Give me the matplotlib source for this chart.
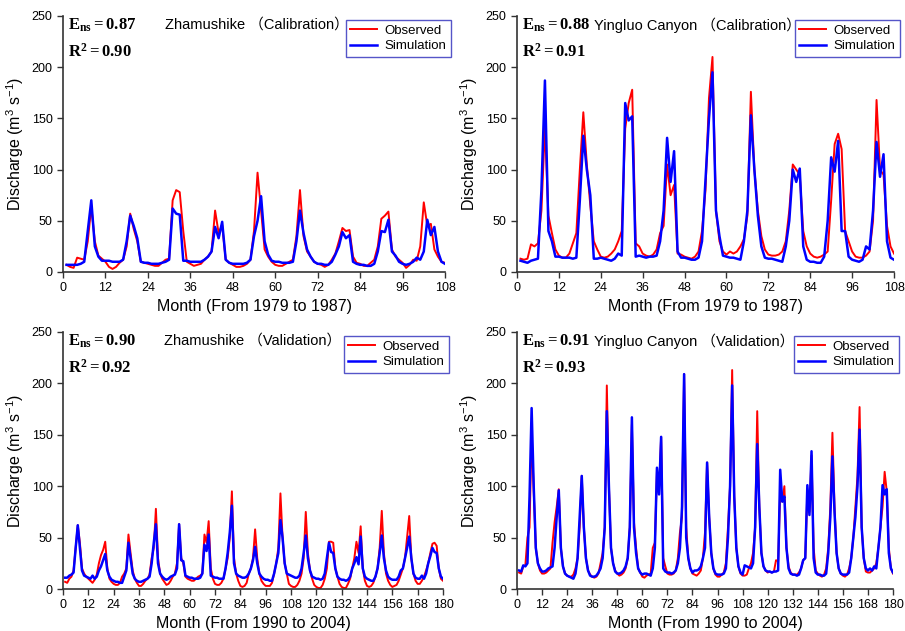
import matplotlib.pyplot as plt
import numpy as np

plt.rcParams['font.family'] = ['Liberation Sans', 'Noto Sans CJK SC']
plt.rcParams['mathtext.fontset'] = 'custom'
plt.rcParams['mathtext.rm'] = 'Liberation Sans'
plt.rcParams['mathtext.it'] = 'Liberation Sans:italic'
plt.rcParams['mathtext.bf'] = 'Liberation Serif:bold'

# Zhamushike, calibration 1979-1987 (monthly)
zms_cal_obs = [7, 5, 4, 14, 13, 12, 30, 64, 30, 16, 13, 10,
               5, 3, 5, 9, 12, 25, 57, 42, 30, 10, 9, 8,
               7, 6, 6, 9, 12, 13, 70, 80, 78, 40, 10, 8,
               6, 7, 8, 12, 15, 20, 60, 38, 46, 12, 9, 7,
               5, 5, 6, 8, 12, 40, 97, 60, 22, 15, 10, 7,
               6, 6, 8, 10, 12, 35, 80, 35, 20, 15, 10, 8,
               7, 5, 7, 12, 18, 30, 43, 40, 41, 15, 9, 8,
               6, 6, 9, 12, 25, 52, 55, 59, 22, 15, 12, 9,
               4, 7, 12, 11, 25, 68, 45, 47, 22, 15, 10, 9]
zms_cal_sim = [7, 7, 7, 7, 8, 10, 40, 70, 25, 15, 11, 11,
               11, 10, 10, 10, 12, 30, 55, 45, 33, 10, 9, 9,
               8, 8, 8, 9, 10, 12, 62, 57, 56, 11, 11, 10,
               10, 10, 10, 12, 15, 20, 44, 33, 49, 12, 9, 8,
               8, 8, 8, 9, 12, 35, 50, 74, 30, 17, 11, 10,
               10, 9, 9, 9, 10, 30, 60, 38, 22, 15, 10, 8,
               8, 7, 7, 10, 17, 25, 39, 33, 36, 10, 8, 7,
               7, 6, 6, 8, 20, 40, 39, 51, 20, 16, 10, 8,
               7, 8, 10, 14, 12, 20, 51, 36, 44, 20, 10, 8]

# Yingluo Canyon, calibration 1979-1987
ylc_cal_obs = [13, 12, 13, 27, 25, 28, 60, 142, 55, 38, 22, 16,
               14, 14, 18, 28, 38, 100, 156, 105, 65, 30, 22, 15,
               14, 15, 18, 22, 30, 40, 140, 165, 178, 28, 25, 18,
               16, 15, 17, 22, 38, 45, 105, 75, 85, 18, 17, 15,
               14, 13, 15, 20, 40, 80, 170, 210, 60, 30, 20, 17,
               20, 18, 20, 25, 32, 55, 176, 100, 60, 35, 22, 17,
               16, 16, 17, 20, 30, 60, 105, 100, 95, 40, 25, 18,
               15, 14, 15, 17, 20, 70, 125, 135, 120, 40, 30, 20,
               15, 14, 14, 16, 20, 50, 168, 100, 95, 45, 25, 18]
ylc_cal_sim = [11, 10, 9, 11, 12, 13, 80, 187, 40, 30, 15, 15,
               14, 14, 14, 13, 14, 70, 133, 100, 75, 13, 13, 14,
               13, 12, 11, 13, 18, 16, 165, 148, 152, 15, 16, 15,
               14, 15, 15, 16, 30, 60, 131, 88, 118, 20, 14, 14,
               13, 12, 12, 14, 30, 90, 150, 195, 60, 35, 16, 15,
               14, 14, 13, 12, 30, 60, 153, 100, 55, 25, 14, 13,
               13, 12, 11, 10, 25, 50, 100, 88, 101, 25, 12, 10,
               10, 9, 9, 15, 50, 112, 98, 128, 40, 40, 15, 12,
               11, 10, 12, 25, 22, 60, 127, 93, 115, 30, 14, 12]

# Zhamushike, validation 1990-2004
zms_val_obs = [7, 6, 10, 12, 18, 40, 62, 45, 20, 15, 12, 10,
               8, 6, 9, 14, 25, 33, 38, 46, 20, 10, 7, 5,
               4, 4, 6, 12, 15, 20, 53, 35, 18, 10, 6, 3,
               3, 5, 8, 10, 14, 30, 40, 78, 30, 15, 10, 7,
               4, 5, 8, 12, 15, 25, 63, 30, 25, 12, 10, 9,
               8, 8, 10, 12, 13, 15, 53, 45, 66, 20, 10, 5,
               4, 4, 6, 10, 20, 30, 50, 95, 30, 15, 8, 3,
               2, 3, 6, 15, 20, 30, 58, 30, 15, 8, 5, 3,
               3, 3, 6, 15, 25, 40, 93, 50, 25, 15, 5, 3,
               2, 2, 4, 8, 15, 30, 75, 35, 18, 10, 4, 2,
               1, 1, 4, 10, 20, 46, 46, 45, 20, 12, 5, 2,
               1, 1, 5, 10, 20, 30, 46, 35, 61, 20, 8, 3,
               2, 3, 6, 12, 20, 40, 76, 35, 15, 8, 4, 2,
               3, 4, 8, 14, 20, 30, 50, 71, 30, 15, 8, 5,
               5, 8, 12, 18, 25, 35, 44, 45, 42, 20, 10, 8]
zms_val_sim = [11, 11, 13, 14, 16, 40, 62, 40, 18, 13, 12, 11,
               10, 13, 10, 12, 18, 22, 28, 34, 18, 12, 9, 8,
               7, 7, 6, 6, 12, 18, 45, 30, 15, 10, 8, 7,
               7, 8, 9, 10, 12, 25, 45, 63, 25, 15, 12, 10,
               9, 10, 12, 13, 14, 20, 63, 28, 27, 13, 12, 11,
               11, 10, 10, 10, 11, 15, 43, 37, 53, 13, 12, 11,
               11, 10, 10, 10, 20, 35, 55, 81, 25, 15, 13, 12,
               11, 11, 12, 15, 20, 28, 41, 25, 15, 12, 10, 9,
               9, 8, 8, 15, 25, 35, 67, 50, 25, 15, 14, 13,
               12, 11, 11, 13, 20, 35, 52, 30, 18, 12, 11, 10,
               10, 9, 10, 15, 30, 45, 36, 35, 20, 12, 10, 9,
               9, 8, 9, 12, 20, 25, 31, 24, 51, 20, 12, 10,
               9, 8, 8, 12, 20, 35, 52, 30, 18, 12, 10, 9,
               9, 9, 12, 18, 20, 30, 40, 51, 30, 15, 11, 10,
               10, 13, 10, 15, 25, 32, 40, 36, 35, 20, 12, 10]

# Yingluo Canyon, validation 1990-2004
ylc_val_obs = [16, 15, 22, 23, 50, 60, 152, 95, 40, 25, 18, 15,
               15, 16, 18, 20, 45, 65, 80, 97, 40, 22, 15, 13,
               12, 12, 14, 20, 30, 60, 110, 60, 30, 18, 14, 12,
               11, 12, 15, 25, 35, 60, 198, 100, 40, 25, 18, 15,
               13, 14, 16, 20, 30, 60, 160, 65, 40, 20, 16, 12,
               11, 13, 14, 15, 40, 45, 115, 95, 148, 30, 22, 15,
               14, 14, 15, 18, 30, 55, 70, 209, 60, 30, 20, 15,
               14, 13, 15, 18, 30, 55, 123, 70, 35, 20, 14, 12,
               12, 14, 16, 25, 60, 100, 213, 90, 40, 22, 15, 13,
               13, 14, 20, 25, 35, 60, 173, 80, 35, 22, 18, 16,
               17, 16, 17, 28, 27, 95, 85, 100, 40, 22, 16, 14,
               14, 14, 16, 20, 28, 30, 95, 75, 130, 40, 18, 15,
               13, 12, 14, 20, 40, 80, 152, 80, 35, 20, 15, 13,
               12, 14, 20, 30, 50, 80, 110, 177, 60, 30, 17, 16,
               16, 18, 20, 25, 40, 60, 80, 114, 95, 40, 20, 15]
ylc_val_sim = [18, 17, 23, 22, 25, 90, 176, 100, 40, 25, 20, 17,
               17, 18, 20, 21, 22, 40, 70, 96, 40, 22, 15, 13,
               12, 11, 10, 15, 30, 70, 110, 60, 30, 18, 13, 12,
               12, 13, 16, 20, 30, 60, 173, 100, 40, 25, 17, 15,
               15, 16, 18, 22, 30, 60, 167, 60, 35, 20, 16, 14,
               15, 15, 14, 13, 20, 40, 118, 92, 148, 20, 17, 16,
               16, 15, 16, 18, 25, 40, 80, 209, 50, 30, 20, 16,
               18, 18, 19, 22, 30, 40, 123, 70, 35, 20, 15, 14,
               14, 14, 15, 20, 50, 100, 198, 90, 40, 22, 16, 14,
               23, 22, 21, 20, 25, 60, 141, 80, 35, 22, 18, 17,
               17, 16, 17, 17, 18, 116, 85, 90, 40, 20, 15, 14,
               14, 13, 14, 20, 28, 30, 101, 72, 134, 30, 16, 14,
               14, 13, 13, 15, 35, 70, 129, 75, 35, 20, 15, 14,
               14, 14, 16, 30, 50, 70, 100, 155, 60, 30, 20, 18,
               20, 18, 22, 20, 40, 60, 101, 92, 97, 35, 20, 16]

panels = [
    # axes box in pixels, obs, sim, station, period, Ens, R2, xlabel, title x
    ([63, 16, 445, 272], zms_cal_obs, zms_cal_sim, 'Zhamushike', 'Calibration', '0.87', '0.90',
     'Month (From 1979 to 1987)', 0.267),
    ([517, 16, 894, 272], ylc_cal_obs, ylc_cal_sim, 'Yingluo Canyon', 'Calibration', '0.88', '0.91',
     'Month (From 1979 to 1987)', 0.205),
    ([63, 332, 443, 589], zms_val_obs, zms_val_sim, 'Zhamushike', 'Validation', '0.90', '0.92',
     'Month (From 1990 to 2004)', 0.267),
    ([517, 332, 893, 589], ylc_val_obs, ylc_val_sim, 'Yingluo Canyon', 'Validation', '0.91', '0.93',
     'Month (From 1990 to 2004)', 0.205),
]

W, H = 905, 631
fig = plt.figure(figsize=(W / 100, H / 100), dpi=100)

for (x0, y0, x1, y1), obs, sim, station, period, ens, r2, xlabel, tx in panels:
    ax = fig.add_axes([x0 / W, 1 - y1 / H, (x1 - x0) / W, (y1 - y0) / H])
    n = len(obs)
    months = np.arange(1, n + 1)
    ax.plot(months, obs, color='#ff0000', lw=1.4, label='Observed')
    ax.plot(months, sim, color='#0000ff', lw=1.8, label='Simulation')

    ax.set_xlim(0, n)
    ax.set_ylim(0, 250)
    ax.set_xticks(np.arange(0, n + 1, 12))
    ax.set_yticks(np.arange(0, 251, 50))
    for side in ['top', 'right']:
        ax.spines[side].set_visible(False)
    for side in ['left', 'bottom']:
        ax.spines[side].set_color('#333333')
        ax.spines[side].set_linewidth(1.2)
    ax.tick_params(direction='out', length=4, width=1, colors='#333333', labelsize=9,
                   labelcolor='black')

    ax.set_xlabel(xlabel, fontsize=11.5, labelpad=3)
    ax.set_ylabel('Discharge (m$^3$ s$^{-1}$)', fontsize=11.5, labelpad=4)

    ax.text(0.013, 0.965, r'$\mathbf{E_{ns}=%s}$' % ens, transform=ax.transAxes,
            fontsize=12, va='center', ha='left')
    ax.text(0.013, 0.866, r'$\mathbf{R^{2}=%s}$' % r2, transform=ax.transAxes,
            fontsize=12, va='center', ha='left')
    ax.text(tx, 0.965, f'{station} （{period}）', transform=ax.transAxes,
            fontsize=10.5, va='center', ha='left')

    right_edge = (x1 - x0 + 6) / (x1 - x0)
    leg = ax.legend(loc='upper right', bbox_to_anchor=(right_edge, 0.985), borderaxespad=0,
                    fontsize=9.5, handlelength=2.0, handletextpad=0.6, fancybox=False,
                    framealpha=1, edgecolor='#5555c8', borderpad=0.35, labelspacing=0.25)
    leg.get_frame().set_linewidth(1.0)

fig.savefig('out.png', dpi=100)
